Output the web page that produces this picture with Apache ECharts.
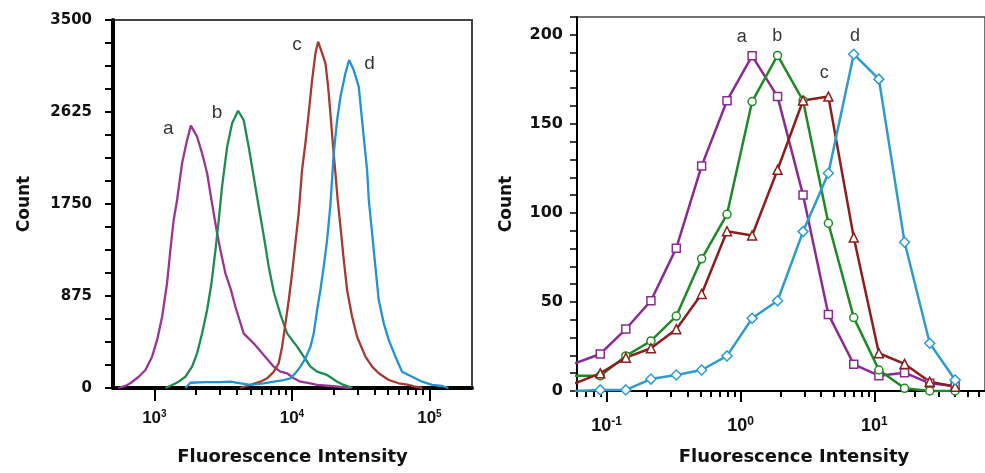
<!DOCTYPE html>
<html>
<head>
<meta charset="utf-8">
<script src="https://cdn.jsdelivr.net/npm/echarts@6.0.0/dist/echarts.min.js"></script>
<style>
html, body { margin: 0; padding: 0; background: #fff; }
#chart { width: 985px; height: 473px; }
</style>
</head>
<body>
<div id="chart"></div>
<script>
// left panel - histograms, intensity vs count
var histAX = [547, 615, 668, 769, 861, 962, 1047, 1138, 1236, 1306, 1381, 1462, 1589, 1729, 1842, 2045, 2223, 2417, 2600, 2858, 3020, 3283, 3573, 3882, 4457, 5272, 6237, 7379, 8247, 9226, 10310, 11530, 13640, 15250, 19050, 22540, 26610];
var histAY = [0, 20, 45, 107, 171, 298, 457, 678, 996, 1312, 1598, 1788, 2137, 2359, 2495, 2390, 2232, 2042, 1788, 1471, 1312, 1091, 950, 773, 520, 425, 314, 203, 155, 140, 92, 60, 45, 29, 19, 10, 0];
var histBX = [1202, 1345, 1503, 1680, 1878, 2045, 2223, 2417, 2600, 2780, 2938, 3105, 3381, 3675, 4061, 4457, 4849, 5272, 5738, 6237, 6780, 7379, 8247, 9226, 10910, 12190, 13640, 15250, 18030, 21330, 23840, 27540];
var histBY = [0, 29, 60, 107, 203, 330, 520, 742, 996, 1312, 1598, 1915, 2295, 2517, 2637, 2549, 2295, 2010, 1724, 1450, 1154, 915, 700, 520, 393, 298, 203, 155, 124, 60, 29, 0];
var histCX = [4217, 4989, 5902, 6604, 7379, 8017, 8488, 8974, 9487, 10030, 10590, 11200, 11850, 12530, 13240, 14020, 14830, 15510, 16600, 17540, 18340, 19050, 19930, 20720, 21530, 22540, 23840, 25190, 27400, 29790, 34240, 38310, 42780, 50580, 59800, 70650, 79050, 88900];
var histCY = [0, 29, 60, 92, 155, 235, 393, 615, 837, 1091, 1376, 1661, 2073, 2327, 2612, 2929, 3183, 3294, 3183, 3088, 2866, 2612, 2295, 2042, 1788, 1534, 1217, 932, 678, 488, 298, 203, 140, 76, 45, 29, 12, 0];
var histDX = [1680, 1828, 2350, 3020, 3573, 4217, 4989, 6237, 7379, 8710, 9750, 10590, 11530, 12530, 13640, 14420, 15250, 16110, 17030, 18030, 19050, 20140, 21330, 22540, 24490, 26060, 28120, 30620, 31480, 33270, 35220, 36220, 38310, 40460, 42780, 46560, 50580, 56620, 63240, 74820, 88500, 104700, 123700, 137400];
var histDY = [0, 50, 55, 55, 60, 45, 29, 45, 60, 76, 92, 140, 203, 282, 393, 520, 742, 932, 1154, 1408, 1740, 2232, 2549, 2771, 2993, 3120, 3024, 2866, 2708, 2390, 2073, 1788, 1471, 1154, 837, 615, 457, 298, 155, 107, 60, 29, 19, 0];

// right panel - binned counts with markers
var binX = [0.058, 0.0895, 0.139, 0.214, 0.331, 0.512, 0.792, 1.22, 1.89, 2.93, 4.53, 7.01, 10.8, 16.8, 25.9, 40.1];
var binA = [15.5, 20.8, 34.8, 50.7, 80.2, 126.4, 163, 188.2, 165.3, 110, 43, 15, 8.6, 10.3, 4.3, 2.8];
var binB = [8.5, 8.5, 19.7, 28.1, 42.1, 74.2, 99.2, 162.5, 188.4, 163, 94.2, 41.2, 11.8, 1.5, 0, 0];
var binC = [4.3, 9.9, 18.7, 24, 34.7, 54.5, 89.7, 87.3, 124.2, 163.1, 165.3, 86.2, 21.2, 15.2, 5.2, 2.4];
var binD = [0, 0.6, 0.6, 6.7, 9, 11.8, 19.7, 40.8, 50.7, 89.5, 122.3, 189.1, 175.1, 83.5, 26.8, 6.2];

// curve tags
var tagNames = ['a', 'b', 'c', 'd'];
var leftTagX = [1264, 2858, 10910, 36610];
var leftTagY = [2461, 2613, 3262, 3082];
var rightTagX = [1.02, 1.88, 4.21, 7.16];
var rightTagY = [198.6, 199.5, 178.7, 199.3];

// tick values
var leftMajor = [1000, 10000, 100000];
var leftMinor = [2000, 3000, 4000, 5000, 6000, 7000, 8000, 9000, 20000, 30000, 40000, 50000, 60000, 70000, 80000, 90000];
var rightMajor = [0.1, 1, 10];
var rightMinor = [0.06, 0.07, 0.08, 0.09, 0.2, 0.3, 0.4, 0.5, 0.6, 0.7, 0.8, 0.9, 2, 3, 4, 5, 6, 7, 8, 9, 20, 30, 40, 50, 60];

var leftColors = ['#9a3596', '#1e8b50', '#a53a30', '#2293d2'];
var rightColors = ['#8c2a95', '#1f8a25', '#8e1d1d', '#2e9bcf'];
var rightSymbols = ['rect', 'circle', 'triangle', 'diamond'];

var LMIN = 500, LMAX = 204000, RMIN = 0.06, RMAX = 67;
var boldFont = 'DejaVu Sans';

function zip(xs, ys) {
    var out = [];
    for (var i = 0; i < xs.length; i++) out.push([xs[i], ys[i]]);
    return out;
}
function tags(xs, ys) {
    var out = [];
    for (var i = 0; i < xs.length; i++) out.push([xs[i], ys[i], tagNames[i]]);
    return out;
}
function supLabel(v) {
    return '{b|10}{s|' + Math.round(v) + '}';
}

var myChart = echarts.init(document.getElementById('chart'));

var series = [];
[[histAX, histAY], [histBX, histBY], [histCX, histCY], [histDX, histDY]].forEach(function (h, i) {
    series.push({
        type: 'line',
        xAxisIndex: 0,
        yAxisIndex: 0,
        data: zip(h[0], h[1]),
        showSymbol: false,
        lineStyle: { color: leftColors[i], width: 2.3 },
        itemStyle: { color: leftColors[i] },
        z: 3
    });
});
[binA, binB, binC, binD].forEach(function (b, i) {
    series.push({
        type: 'line',
        xAxisIndex: 3,
        yAxisIndex: 1,
        data: zip(binX, b),
        symbol: rightSymbols[i],
        symbolSize: i === 3 ? 10 : (i === 2 ? 9 : 8),
        lineStyle: { color: rightColors[i], width: 2.5 },
        itemStyle: { color: '#fff', borderColor: rightColors[i], borderWidth: 1.5 },
        z: 3
    });
});
series.push({
    type: 'scatter',
    xAxisIndex: 0,
    yAxisIndex: 0,
    data: tags(leftTagX, leftTagY),
    symbolSize: 0,
    label: {
        show: true, position: 'inside', formatter: function (p) { return p.value[2]; },
        fontFamily: 'Liberation Sans', fontSize: 19, color: '#000'
    }
});
series.push({
    type: 'scatter',
    xAxisIndex: 3,
    yAxisIndex: 1,
    data: tags(rightTagX, rightTagY),
    symbolSize: 0,
    label: {
        show: true, position: 'inside', formatter: function (p) { return p.value[2]; },
        fontFamily: 'Liberation Sans', fontSize: 18, color: '#000'
    }
});

var nameStyle = { fontFamily: boldFont, fontWeight: 'bold', fontSize: 18, color: '#111' };

var options = {
    animation: false,
    grid: [
        { left: 113, top: 20, width: 359, height: 368, show: true, borderColor: '#444', borderWidth: 2 },
        { left: 577, top: 17, width: 410, height: 374, show: true, borderColor: '#444', borderWidth: 1.5 }
    ],
    xAxis: [
        {
            type: 'log', gridIndex: 0, min: LMIN, max: LMAX, position: 'bottom',
            axisLine: { onZero: false, lineStyle: { color: '#000', width: 4 } },
            axisTick: { show: false }, axisLabel: { show: false }, splitLine: { show: false },
            name: 'Fluorescence Intensity', nameLocation: 'middle', nameGap: 60,
            nameTextStyle: nameStyle
        },
        {
            type: 'value', gridIndex: 0, min: Math.log10(LMIN), max: Math.log10(LMAX), position: 'bottom',
            axisLine: { show: false, onZero: false }, splitLine: { show: false },
            axisTick: { length: 13, lineStyle: { color: '#000', width: 2 }, customValues: leftMajor.map(Math.log10) },
            axisLabel: {
                customValues: leftMajor.map(Math.log10), margin: 21, formatter: supLabel,
                rich: {
                    b: { fontFamily: 'Liberation Sans', fontWeight: 'bold', fontSize: 17, lineHeight: 19, color: '#111' },
                    s: { fontFamily: 'Liberation Sans', fontWeight: 'bold', fontSize: 10, lineHeight: 10, verticalAlign: 'top', color: '#111' }
                }
            }
        },
        {
            type: 'value', gridIndex: 0, min: Math.log10(LMIN), max: Math.log10(LMAX), position: 'bottom',
            axisLine: { show: false, onZero: false }, splitLine: { show: false },
            axisTick: { length: 7, lineStyle: { color: '#000', width: 2 }, customValues: leftMinor.map(Math.log10) },
            axisLabel: { show: false }
        },
        {
            type: 'log', gridIndex: 1, min: RMIN, max: RMAX, position: 'bottom',
            axisLine: { onZero: false, lineStyle: { color: '#000', width: 2 } },
            axisTick: { show: false }, axisLabel: { show: false }, splitLine: { show: false },
            name: 'Fluorescence Intensity', nameLocation: 'middle', nameGap: 57,
            nameTextStyle: Object.assign({ padding: [0, 0, 0, 26] }, nameStyle)
        },
        {
            type: 'value', gridIndex: 1, min: Math.log10(RMIN), max: Math.log10(RMAX), position: 'bottom',
            axisLine: { show: false, onZero: false }, splitLine: { show: false },
            axisTick: { length: 11, lineStyle: { color: '#000', width: 2 }, customValues: rightMajor.map(Math.log10) },
            axisLabel: {
                customValues: rightMajor.map(Math.log10), margin: 25, formatter: supLabel,
                rich: {
                    b: { fontFamily: 'Liberation Sans', fontWeight: 'bold', fontSize: 18, lineHeight: 20, color: '#111' },
                    s: { fontFamily: 'Liberation Sans', fontWeight: 'bold', fontSize: 12, lineHeight: 12, verticalAlign: 'top', color: '#111' }
                }
            }
        },
        {
            type: 'value', gridIndex: 1, min: Math.log10(RMIN), max: Math.log10(RMAX), position: 'bottom',
            axisLine: { show: false, onZero: false }, splitLine: { show: false },
            axisTick: { length: 6, lineStyle: { color: '#000', width: 2 }, customValues: rightMinor.map(Math.log10) },
            axisLabel: { show: false }
        }
    ],
    yAxis: [
        {
            type: 'value', gridIndex: 0, min: 0, max: 3500, interval: 875,
            axisLine: { show: true, onZero: false, lineStyle: { color: '#000', width: 4 } },
            axisTick: { show: true, length: 8, lineStyle: { color: '#000', width: 2 } },
            minorTick: { show: true, splitNumber: 4, length: 8, lineStyle: { color: '#000', width: 2 } },
            axisLabel: {
                margin: 21, fontFamily: boldFont, fontWeight: 'bold', fontSize: 15, color: '#111',
                formatter: function (v) { return String(v); }
            },
            splitLine: { show: false },
            name: 'Count', nameLocation: 'middle', nameGap: 80,
            nameTextStyle: { fontFamily: boldFont, fontWeight: 'bold', fontSize: 17, color: '#111' }
        },
        {
            type: 'value', gridIndex: 1, min: 0, max: 210, interval: 10,
            axisLine: { show: true, onZero: false, lineStyle: { color: '#000', width: 2 } },
            axisTick: { show: true, length: 7, lineStyle: { color: '#000', width: 1.5 } },
            axisLabel: {
                margin: 14, fontFamily: boldFont, fontWeight: 'bold', fontSize: 16, color: '#111',
                formatter: function (v) { return v % 50 === 0 ? String(v) : ''; }
            },
            splitLine: { show: false },
            name: 'Count', nameLocation: 'middle', nameGap: 62,
            nameTextStyle: { fontFamily: boldFont, fontWeight: 'bold', fontSize: 17, color: '#111' }
        }
    ],
    series: series
};
myChart.setOption(options);
window.onresize = myChart.resize;
</script>
</body>
</html>
